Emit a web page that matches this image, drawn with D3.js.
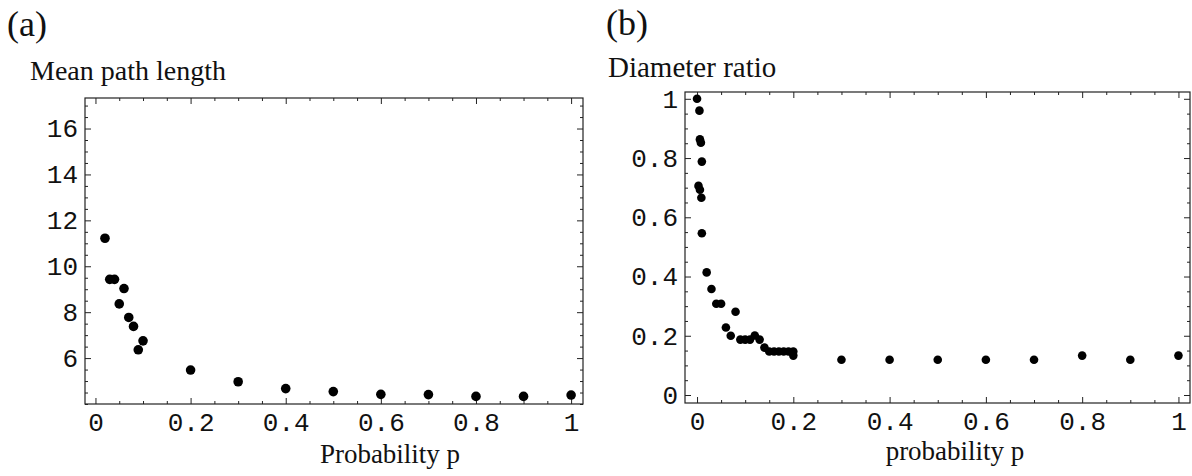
<!DOCTYPE html>
<html>
<head>
<meta charset="utf-8">
<script src="https://cdn.jsdelivr.net/npm/d3@7"></script>
<style>
    body { margin: 0; background: #fff; }
    svg { display: block; }
    .tick text { font-family: "Liberation Mono", "DejaVu Sans Mono", monospace; font-size: 26px; fill: #111; }
    .tick line { stroke: #222; }
    .domain { display: none; }
    .lbl { font-family: "Liberation Serif", "Times New Roman", serif; fill: #111; }
</style>
</head>
<body>
<div id="chart"></div>
<script>
// panel (a): mean path length vs rewiring probability
var PROB_A = [0.02, 0.03, 0.04, 0.05, 0.06, 0.07, 0.08, 0.09, 0.1, 0.2, 0.3, 0.4, 0.5, 0.6, 0.7, 0.8, 0.9, 1];
var MEAN_PATH = [11.22, 9.43, 9.43, 8.36, 9.03, 7.77, 7.38, 6.36, 6.75, 5.48, 4.97, 4.67, 4.54, 4.42, 4.41, 4.33, 4.33, 4.39];
var TICKS_A_X = [0, 0.2, 0.4, 0.6, 0.8, 1];
var TICKS_A_Y = [6, 8, 10, 12, 14, 16];

// panel (b): diameter ratio vs probability
var PROB_B = [0, 0.003, 0.005, 0.006, 0.006, 0.008, 0.009, 0.01, 0.01,
    0.02, 0.03, 0.04, 0.05, 0.06, 0.07, 0.08, 0.09, 0.1, 0.11, 0.12, 0.13, 0.14,
    0.15, 0.16, 0.17, 0.18, 0.19, 0.2, 0.2,
    0.3, 0.4, 0.5, 0.6, 0.7, 0.8, 0.9, 1];
var DIAM_RATIO = [1.0, 0.706, 0.96, 0.863, 0.693, 0.852, 0.666, 0.788, 0.546,
    0.414, 0.358, 0.308, 0.308, 0.228, 0.2, 0.281, 0.187, 0.187, 0.187, 0.201, 0.187, 0.16,
    0.147, 0.147, 0.147, 0.147, 0.147, 0.147, 0.133,
    0.119, 0.119, 0.119, 0.119, 0.119, 0.133, 0.119, 0.133];
var TICKS_B_X = [0, 0.2, 0.4, 0.6, 0.8, 1];
var TICKS_B_Y = [0, 0.2, 0.4, 0.6, 0.8, 1];

var WIDTH = 1192, HEIGHT = 476;

var svg = d3.select("#chart").append("svg")
    .attr("width", WIDTH)
    .attr("height", HEIGHT);

function minor_ticks(majors, step, domain){
    /*
        minor tick values between (and beyond) the major ones, inside the domain
    */
    var res = [];
    var lo = majors[0] - step * 20, hi = majors[majors.length - 1] + step * 20;
    for (var v = lo; v <= hi + 1e-9; v += step){
        var r = Math.round(v * 1000) / 1000;
        if (r < domain[0] || r > domain[1]) continue;
        var isMajor = majors.some(function(m){ return Math.abs(m - r) < 1e-6; });
        if (!isMajor) res.push(r);
    }
    return res;
}

function draw_panel(o){
    /*
        mathematica-like framed plot: ticks inward on all four sides,
        labels only on left & bottom
    */
    var x = d3.scaleLinear().domain(o.xDomain).range([o.left, o.right]);
    var y = d3.scaleLinear().domain(o.yDomain).range([o.bottom, o.top]);
    var g = svg.append("g");

    var xMinor = minor_ticks(o.xTicks, o.xMinor, o.xDomain),
        yMinor = minor_ticks(o.yTicks, o.yMinor, o.yDomain);

    // bottom & top
    g.append("g").attr("transform", "translate(0," + o.bottom + ")")
        .call(d3.axisBottom(x).tickValues(o.xTicks).tickSize(-6).tickPadding(9).tickFormat(o.xFormat));
    g.append("g").attr("transform", "translate(0," + o.bottom + ")")
        .call(d3.axisBottom(x).tickValues(xMinor).tickSize(-3).tickFormat(""));
    g.append("g").attr("transform", "translate(0," + o.top + ")")
        .call(d3.axisTop(x).tickValues(o.xTicks).tickSize(-6).tickFormat(""));
    g.append("g").attr("transform", "translate(0," + o.top + ")")
        .call(d3.axisTop(x).tickValues(xMinor).tickSize(-3).tickFormat(""));

    // left & right
    g.append("g").attr("transform", "translate(" + o.left + ",0)")
        .call(d3.axisLeft(y).tickValues(o.yTicks).tickSize(-6).tickPadding(7).tickFormat(o.yFormat));
    g.append("g").attr("transform", "translate(" + o.left + ",0)")
        .call(d3.axisLeft(y).tickValues(yMinor).tickSize(-3).tickFormat(""));
    g.append("g").attr("transform", "translate(" + o.right + ",0)")
        .call(d3.axisRight(y).tickValues(o.yTicks).tickSize(-6).tickFormat(""));
    g.append("g").attr("transform", "translate(" + o.right + ",0)")
        .call(d3.axisRight(y).tickValues(yMinor).tickSize(-3).tickFormat(""));

    g.append("rect")
        .attr("x", o.left).attr("y", o.top)
        .attr("width", o.right - o.left).attr("height", o.bottom - o.top)
        .attr("fill", "none").attr("stroke", "#222").attr("stroke-width", 1.2);

    g.selectAll("circle.pt")
        .data(o.xs).enter()
        .append("circle")
        .attr("class", "pt")
        .attr("cx", function(d){ return x(d); })
        .attr("cy", function(d, i){ return y(o.ys[i]); })
        .attr("r", o.r)
        .attr("fill", "#000");

    g.append("text").attr("class", "lbl")
        .attr("x", o.tagX).attr("y", o.tagY)
        .style("font-size", "36px")
        .text(o.tag);
    g.append("text").attr("class", "lbl")
        .attr("x", o.yLabelX).attr("y", o.yLabelY)
        .style("font-size", o.yLabelSize + "px")
        .text(o.yLabel);
    g.append("text").attr("class", "lbl")
        .attr("x", o.xLabelX).attr("y", o.xLabelY)
        .attr("text-anchor", "middle")
        .style("font-size", "27px")
        .text(o.xLabel);
}

var fmtMath = function(d){ return d === 0 ? "0" : d === 1 ? "1" : d3.format(".1f")(d); };

draw_panel({
    xs: PROB_A, ys: MEAN_PATH,
    xDomain: [-0.022, 1.025], yDomain: [4.0, 17.33],
    left: 85, right: 583, top: 98, bottom: 404,
    xTicks: TICKS_A_X, yTicks: TICKS_A_Y, xMinor: 0.05, yMinor: 0.5,
    xFormat: fmtMath, yFormat: d3.format("d"),
    r: 4.8,
    tag: "(a)", tagX: 7, tagY: 36,
    yLabel: "Mean path length", yLabelSize: 28, yLabelX: 30, yLabelY: 80,
    xLabel: "Probability p", xLabelX: 390, xLabelY: 463
});

draw_panel({
    xs: PROB_B, ys: DIAM_RATIO,
    xDomain: [-0.025, 1.024], yDomain: [-0.027, 1.023],
    left: 685, right: 1190, top: 92, bottom: 403,
    xTicks: TICKS_B_X, yTicks: TICKS_B_Y, xMinor: 0.05, yMinor: 0.05,
    xFormat: fmtMath, yFormat: fmtMath,
    r: 4.3,
    tag: "(b)", tagX: 606, tagY: 35,
    yLabel: "Diameter ratio", yLabelSize: 29, yLabelX: 608, yLabelY: 77,
    xLabel: "probability p", xLabelX: 955, xLabelY: 460
});
</script>
</body>
</html>
